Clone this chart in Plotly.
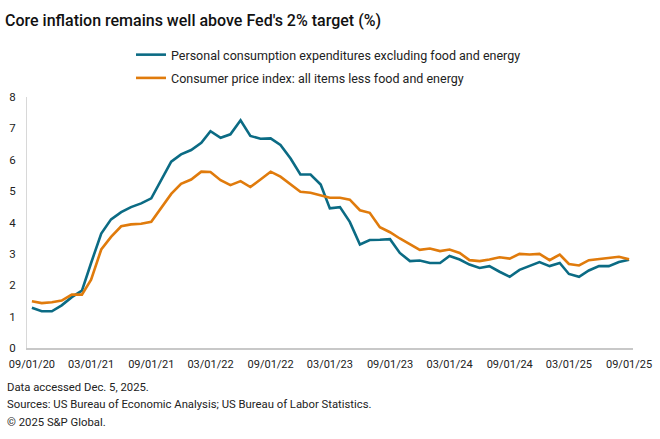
import pandas as pd
import plotly.graph_objects as go

dates = pd.date_range("2020-09-01", "2025-09-01", freq="MS")

pce = [1.28, 1.17, 1.17, 1.36, 1.62, 1.83, 2.71, 3.65, 4.10, 4.33,
       4.49, 4.61, 4.77, 5.35, 5.94, 6.17, 6.31, 6.54, 6.91, 6.70,
       6.81, 7.26, 6.76, 6.67, 6.68, 6.47, 6.04, 5.53, 5.53, 5.21,
       4.45, 4.49, 4.02, 3.30, 3.44, 3.45, 3.47, 3.03, 2.77, 2.79,
       2.71, 2.71, 2.93, 2.82, 2.66, 2.55, 2.61, 2.43, 2.27, 2.49,
       2.61, 2.74, 2.61, 2.71, 2.36, 2.27, 2.47, 2.61, 2.61, 2.74,
       2.81]

cpi = [1.49, 1.43, 1.46, 1.51, 1.70, 1.70, 2.18, 3.14, 3.54, 3.88,
       3.94, 3.96, 4.02, 4.47, 4.91, 5.23, 5.37, 5.62, 5.61, 5.35,
       5.19, 5.32, 5.13, 5.37, 5.62, 5.46, 5.21, 4.98, 4.95, 4.87,
       4.79, 4.79, 4.73, 4.39, 4.31, 3.85, 3.69, 3.49, 3.30, 3.13,
       3.17, 3.09, 3.14, 3.03, 2.80, 2.77, 2.82, 2.89, 2.85, 3.00,
       2.98, 3.00, 2.80, 2.98, 2.68, 2.63, 2.80, 2.83, 2.87, 2.91,
       2.83]

series_names = ["Personal consumption expenditures excluding food and energy",
                "Consumer price index: all items less food and energy"]
colors = ["#0b6b84", "#e07b0c"]

tick_dates = pd.date_range("2020-09-01", "2025-09-01", freq="6MS")
tick_labels = [d.strftime("%m/%d/%y") for d in tick_dates]
y_ticks = list(range(0, 9))

title_text = "Core inflation remains well above Fed's 2% target (%)"
footer_lines = ["Data accessed Dec. 5, 2025.",
                "Sources: US Bureau of Economic Analysis; US Bureau of Labor Statistics.",
                "© 2025 S&P Global."]

BODY = "Roboto, Arial, sans-serif"

fig = go.Figure()
for i, (name, vals, col) in enumerate(zip(series_names, [pce, cpi], colors)):
    fig.add_trace(go.Scatter(x=dates, y=vals, mode="lines", name=name,
                             legendgroup=f"g{i}",
                             line=dict(color=col, width=2.6)))

fig.update_layout(
    width=660, height=439,
    margin=dict(l=27, r=27, t=97, b=91, autoexpand=False),
    paper_bgcolor="white", plot_bgcolor="white",
    font=dict(family=BODY, size=11, color="#222"),
    title=dict(text=title_text, xref="container", yref="container",
               x=5/660, xanchor="left", y=1-20.5/439, yanchor="middle",
               font=dict(family=BODY, size=16, color="#111", weight=500)),
    showlegend=True,
    legend=dict(orientation="v", x=0.1716, xanchor="left", y=1.227, yanchor="top",
                font=dict(family=BODY, size=12.5, color="#222"),
                bgcolor="rgba(0,0,0,0)", itemwidth=30, tracegroupgap=4),
    xaxis=dict(type="date", range=["2020-08-17", "2025-09-13"], automargin=False,
               tickvals=tick_dates, ticktext=tick_labels, showgrid=False,
               showline=True, linecolor="#c8c8c8", linewidth=1.5,
               ticks="", tickfont=dict(size=11, color="#222"), zeroline=False,
               ticklabelstandoff=5),
    yaxis=dict(range=[0, 8], tickvals=y_ticks, showgrid=False, zeroline=False,
               automargin=False,
               showline=True, linecolor="#d8d8d8", linewidth=1,
               ticks="", tickfont=dict(size=11.5, color="#222"), ticklabelstandoff=8),
)

for i, line in enumerate(footer_lines):
    fig.add_annotation(text=line, xref="paper", yref="paper",
                       x=-22/606, xanchor="left",
                       y=-(387 + i*17.5 - 348)/251, yanchor="middle",
                       showarrow=False, font=dict(family=BODY, size=11.3, color="#222"))

fig.write_html("out.html", config={"displayModeBar": False},
               post_script="document.body.style.margin='0';document.body.style.padding='0';")
